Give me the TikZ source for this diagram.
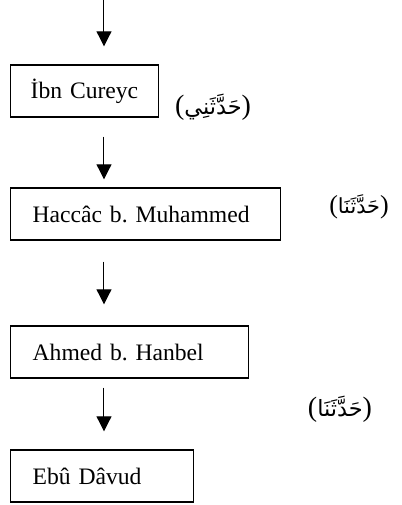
\documentclass[tikz,border=0pt]{standalone}
\usepackage{fontspec}
\setmainfont{Liberation Serif}
\newfontfamily\arabicfont[Script=Arabic,Scale=0.8]{DejaVu Sans}
\TeXXeTstate=1
\usetikzlibrary{arrows.meta}
\tikzset{
  isnad/.style={draw, line width=0.7pt, minimum height=26pt, inner xsep=11pt,
    align=left, anchor=west, font=\fontsize{11.8}{14}\selectfont\frenchspacing},
  rivayet/.style={font=\fontsize{14}{16}\selectfont},
  akis/.style={-{Triangle[width=7.5pt,length=7.5pt]}, line width=0.5pt},
}
\begin{document}
\begin{tikzpicture}[x=0.5pt,y=-0.5pt]
        \useasboundingbox (0,0) rectangle (402,505);
        \coordinate (bas) at (104,0);
        \node[isnad,text width=54pt,inner xsep=10pt] (cureyc) at (10,91) {\mbox{İbn Cureyc}};
        \node[isnad,text width=113pt] (haccac) at (10,214) {Haccâc b. Muhammed};
        \node[isnad,text width=97pt] (ahmed) at (10,352) {Ahmed b. Hanbel};
        \node[isnad,text width=69.5pt] (davud) at (10,476) {Ebû Dâvud};
        \draw[akis,shorten >=9pt] (bas) -- (bas |- cureyc.north);
        \draw[akis,shorten <=9.5pt,shorten >=4pt] (bas |- cureyc.south) -- (bas |- haccac.north);
        \draw[akis,shorten <=10.5pt,shorten >=10.5pt] (bas |- haccac.south) -- (bas |- ahmed.north);
        \draw[akis,shorten <=4.5pt,shorten >=9pt] (bas |- ahmed.south) -- (bas |- davud.north);
        \node[rivayet] (haddesani) at (213,107) {({\arabicfont\beginR حَدَّثَنِي\endR})};
        \node[rivayet,font=\fontsize{13}{15}\selectfont] (haddesena1) at (359,207) {({\arabicfont\beginR حَدَّثَنَا\endR})};
        \node[rivayet] (haddesena2) at (340,409) {({\arabicfont\beginR حَدَّثَنَا\endR})};
    \end{tikzpicture}
\end{document}
